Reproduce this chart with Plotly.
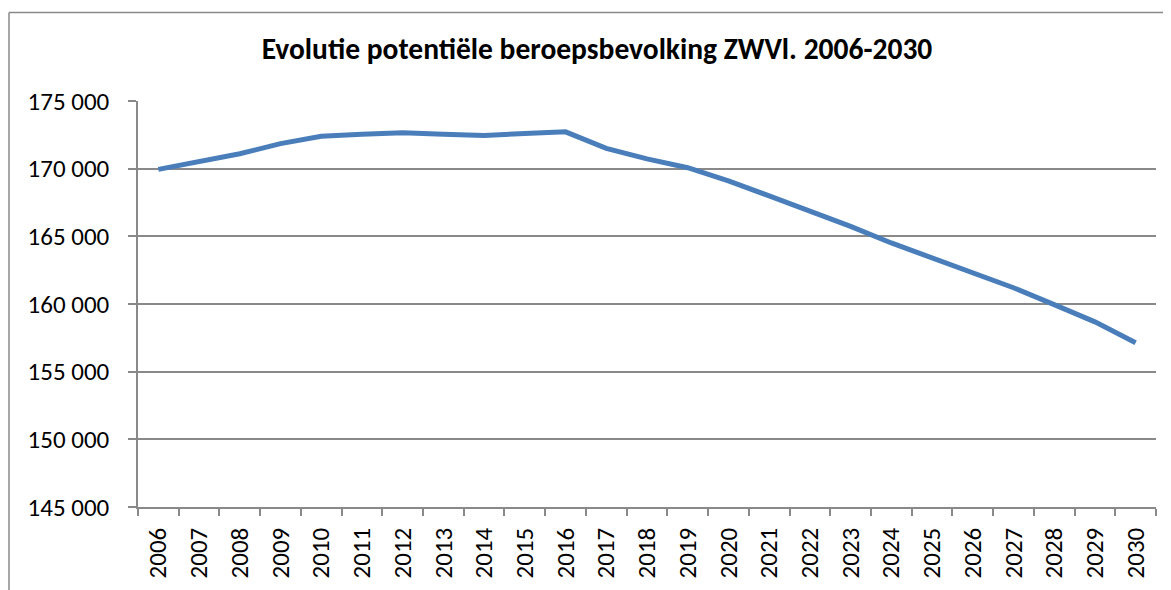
import plotly.graph_objects as go

years = [str(y) for y in range(2006, 2031)]
population = [169950, 170500, 171100, 171850, 172400, 172540, 172650, 172540,
              172450, 172600, 172720, 171500, 170720, 170070, 169090, 167990,
              166880, 165730, 164510, 163390, 162300, 161200, 159950, 158680,
              157140]
y_ticks = [145000, 150000, 155000, 160000, 165000, 170000, 175000]

title_text = "Evolutie potentiële beroepsbevolking ZWVl. 2006-2030"
FONT = "Carlito, Lato, 'Open Sans', sans-serif"
GRID = "#898989"

# the page body has an 8px margin, so the figure is offset by 8px
W, H = 1163, 582

fig = go.Figure()
fig.add_trace(go.Scatter(
    x=years, y=population, mode="lines",
    line=dict(color="#4A7EBB", width=5),
    hoverinfo="x+y", showlegend=False,
))

fig.update_layout(
    width=W, height=H,
    margin=dict(l=130, r=15, t=93, b=81),
    paper_bgcolor="white", plot_bgcolor="white",
    separators=", ",
    font=dict(family=FONT, color="black"),
    title=dict(text="<b>" + title_text + "</b>", x=589 / W, xref="container",
               xanchor="center", y=1 - 41 / H, yref="container",
               yanchor="middle", font=dict(size=29.5, family=FONT)),
    xaxis=dict(type="category", range=[-0.5, 24.5], tickangle=-90,
               tickson="boundaries", ticks="outside", ticklen=7,
               tickcolor=GRID, tickwidth=1.5, showline=True, linecolor=GRID,
               linewidth=1.5, showgrid=False, tickfont=dict(size=25),
               ticklabelstandoff=9),
    yaxis=dict(range=[145000, 175000], tickvals=y_ticks, tickformat=",d",
               ticks="outside", ticklen=8, tickcolor=GRID, tickwidth=1.5,
               showline=True, linecolor=GRID, linewidth=1.5,
               showgrid=True, gridcolor=GRID, gridwidth=1.5,
               zeroline=False, tickfont=dict(size=25),
               ticklabelstandoff=14),
)

# outer chart frame (top and left edges)
fig.add_shape(type="line", xref="paper", yref="paper",
              x0=(9 - 138) / 1018, x1=(1175 - 138) / 1018,
              y0=(509 - 12) / 408, y1=(509 - 12) / 408,
              line=dict(color=GRID, width=1.5))
fig.add_shape(type="line", xref="paper", yref="paper",
              x0=(9 - 138) / 1018, x1=(9 - 138) / 1018,
              y0=(509 - 12) / 408, y1=(509 - 600) / 408,
              line=dict(color=GRID, width=1.5))

fig.write_html("out.html")
